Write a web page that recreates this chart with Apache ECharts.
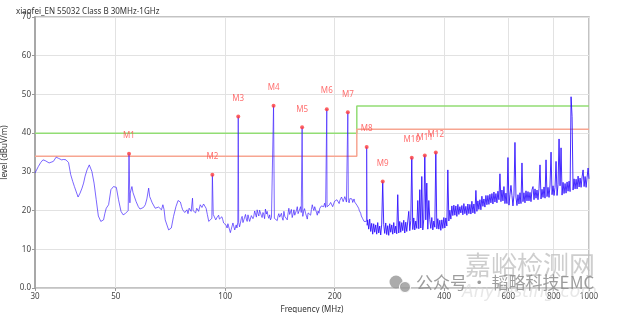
<!DOCTYPE html>
<html><head><meta charset="utf-8">
<script src="https://cdn.jsdelivr.net/npm/echarts@6/dist/echarts.min.js"></script>
<style>html,body{margin:0;padding:0;background:#fff}#c{width:618px;height:313px}</style>
</head><body><div id="c"></div>
<script>
// ---- data ----
const chartTitle = 'xiaofei_EN 55032 Class B 30MHz-1GHz';
const xTickValues = [30, 50, 100, 200, 400, 600, 800, 1000];
const yTickMin = 0, yTickMax = 70, yTickStep = 10;

// limit lines (MHz, dBuV/m)
const limitFreq = [30, 230, 230, 1000];
const qpLimit = [40, 40, 47, 47];
const marginLimit = [34, 34, 41, 41];

// markers
const markerNames = ['M1','M2','M3','M4','M5','M6','M7','M8','M9','M10','M11','M12'];
const markerFreq = [54.4, 92.2, 108.6, 135.8, 162.7, 190.2, 217.3, 244.8, 271.0, 325.7, 353.7, 379.25];
const markerLevel = [34.7, 29.25, 44.3, 47.1, 41.5, 46.2, 45.4, 36.4, 27.5, 33.65, 34.25, 35.0];

// measured trace [MHz, dBuV/m]
const traceLow = [[30.0,29.7],[30.65,31.4],[31.1,32.4],[31.55,33.1],[32.0,32.9],[32.4,32.7],[32.8,32.3],[33.15,32.1],[33.7,32.7],[34.3,33.8],[34.8,33.5],[35.5,33.1],[36.0,33.2],[36.5,33.1],[37.1,32.4],[37.6,29.3],[38.1,27.5],[38.5,26.2],[38.9,26.6],[39.4,23.5],[39.9,24.5],[40.4,25.8],[40.8,27.1],[41.2,28.9],[41.7,30.5],[42.3,31.8],[43.0,30.1],[43.6,27.1],[44.2,22.8],[44.8,18.6],[45.5,17.2],[46.3,17.6],[46.7,19.3],[47.1,20.6],[47.8,21.5],[48.5,25.4],[49.3,26.2],[50.2,26.0],[50.9,22.8],[51.7,19.8],[52.4,18.9],[53.1,19.2],[53.7,18.9],[54.1,20.0],[54.4,34.7],[54.7,22.0],[54.8,24.5],[55.4,26.2],[55.8,24.6],[56.2,25.1],[56.9,22.3],[57.7,21.0],[58.3,20.4],[59.0,20.2],[59.6,20.8],[60.3,21.5],[60.9,23.0],[61.6,25.8],[62.0,23.6],[62.5,22.8],[63.0,22.0],[63.5,21.5],[64.2,20.6],[64.9,20.2],[65.6,20.9],[66.3,21.0],[66.8,20.2],[67.4,21.5],[67.9,20.3]];
const traceMid = [[68.4,17.6],[69.9,15.0],[71.1,15.5],[72.1,18.5],[73.2,21.0],[74.2,22.6],[75.3,22.2],[75.9,21.0],[76.4,20.2],[77.4,19.5],[78.5,20.2],[79.0,19.2],[79.6,20.6],[80.6,19.8],[81.3,23.2],[81.6,20.0],[82.3,20.2],[82.9,19.4],[83.5,20.6],[84.5,19.8],[85.4,21.5],[86.3,20.8],[87.2,21.7],[87.9,21.2],[88.6,20.6],[89.3,19.0],[90.1,17.2],[91.0,16.8],[91.9,18.0],[92.2,29.25],[92.7,19.0],[93.5,18.5],[94.2,17.6],[94.9,18.2],[95.9,18.8],[96.4,17.8],[97.0,17.6],[97.9,18.4],[98.5,17.6],[99.0,16.8],[100.1,17.3],[100.6,16.2],[101.2,15.5],[101.7,16.6],[102.3,16.2],[103.3,14.3],[103.9,15.2],[104.5,15.6],[105.0,16.8],[105.6,16.5],[106.2,15.0],[106.7,15.2],[107.2,16.3],[107.7,15.5],[108.3,17.0],[108.6,44.3],[108.9,17.0],[109.5,15.8],[110.1,16.8],[110.7,17.9],[111.3,18.5],[111.9,16.9],[112.5,17.6],[113.1,18.3],[113.7,19.0],[114.3,17.8],[114.9,17.2],[115.5,18.9],[116.1,18.6],[116.7,17.2],[117.3,17.6],[118.0,18.7],[118.6,19.2],[119.2,17.9],[119.8,18.5],[120.5,19.9],[121.1,19.6],[121.8,18.3],[122.4,20.2],[123.0,19.3],[123.7,18.6],[124.3,20.1],[125.0,19.8],[125.6,18.8],[126.3,18.2],[127.0,19.5],[127.7,18.9],[128.3,17.9],[129.0,20.4],[129.7,19.1],[130.4,19.8],[131.1,18.6],[131.8,18.0],[132.5,18.9],[133.2,17.6],[134.0,18.2],[134.9,18.4],[135.8,47.1],[136.5,18.0],[137.5,18.5],[138.2,17.6],[139.0,17.4],[139.7,18.6],[140.4,19.2],[141.2,18.3],[141.9,18.0],[142.7,19.3],[143.4,18.2],[144.2,17.5],[145.0,19.8],[145.8,18.5],[146.5,18.9],[147.3,18.0],[148.1,17.6],[148.9,19.4],[149.6,20.6],[150.4,19.0],[151.2,19.5],[152.0,20.3],[152.8,18.2],[153.7,19.1],[154.5,20.2],[155.3,18.8],[156.1,19.0],[157.0,20.1],[157.8,21.0],[158.6,19.2],[159.4,19.6],[160.3,20.4],[161.1,21.0],[161.8,19.5],[162.4,19.0],[162.7,41.5],[163.4,18.5],[164.2,19.8],[165.2,20.5],[166.3,19.3],[167.2,18.6],[168.1,17.8],[169.0,19.4],[169.9,19.9],[170.8,19.0],[171.7,18.8],[172.6,20.3],[173.5,21.5],[174.4,20.6],[175.3,20.0],[176.2,21.0],[177.2,20.7],[178.1,19.6],[179.1,18.8],[180.0,19.9],[181.0,19.3],[182.0,20.6],[182.9,20.2],[183.9,21.2],[184.9,20.7],[185.7,21.6],[186.5,21.0],[187.6,21.9],[188.8,20.8],[190.0,21.0],[190.2,46.2],[190.5,21.0],[191.2,21.0],[192.3,20.6],[193.4,21.5],[194.9,22.1],[196.4,21.9],[197.4,21.0],[198.4,21.3],[199.8,22.4],[201.2,22.3],[202.8,22.8],[204.1,23.2],[205.7,21.8],[206.6,22.6],[207.6,22.3],[208.8,23.5],[209.9,23.4],[211.0,22.3],[212.1,22.6],[213.2,23.6],[214.3,23.0],[215.4,22.2],[216.6,22.4],[217.3,45.4],[218.0,22.6],[219.1,22.0],[220.1,23.1],[221.2,22.6],[222.2,22.9],[223.1,23.0],[224.1,22.1],[225.1,22.4],[226.0,23.0],[227.0,22.2],[228.4,21.9],[229.2,22.1],[230.1,21.4],[231.7,21.0],[232.7,20.6],[233.7,20.0],[234.7,19.6],[235.7,19.3],[236.7,18.6],[237.6,18.8],[238.7,17.9],[239.8,18.0],[240.8,17.2],[241.8,17.6],[243.0,16.8],[244.5,17.2],[244.8,36.4],[245.6,16.2]];
const traceHigh = [[245.6,16.2],[246.4,17.6],[247.96,15.2],[249.54,17.8],[251.14,14.6],[252.73,16.7],[254.34,13.9],[255.95,16.6],[257.58,14.4],[259.23,16.3],[260.88,13.9],[262.53,16.9],[264.2,14.2],[265.88,16.0],[267.58,13.7],[269.28,16.5],[270.99,27.5],[272.71,16.4],[274.45,14.1],[276.2,16.8],[277.95,13.8],[279.72,16.1],[281.5,13.6],[283.29,16.6],[285.1,14.4],[286.91,16.3],[288.73,13.9],[290.57,16.9],[292.42,14.2],[294.28,16.0],[296.15,14.0],[298.03,24.1],[299.93,14.2],[301.84,17.2],[303.76,14.4],[305.69,16.9],[307.63,14.8],[309.59,17.5],[311.56,14.2],[313.55,17.0],[315.54,14.6],[317.55,17.3],[319.57,19.8],[321.6,14.8],[323.65,17.4],[325.71,33.65],[327.78,15.1],[329.86,18.1],[331.96,15.0],[334.07,17.3],[336.2,15.4],[338.34,22.6],[340.49,15.3],[342.66,25.4],[344.84,15.5],[347.03,28.8],[349.24,15.0],[351.46,17.8],[353.7,34.25],[355.95,17.6],[358.21,27.1],[360.49,15.2],[362.78,22.6],[365.09,17.7],[367.41,15.4],[369.75,18.2],[372.1,15.0],[374.47,17.3],[376.85,15.7],[379.25,35.0],[381.66,15.3],[384.09,17.9],[386.53,15.2],[388.99,17.5],[391.46,14.9],[393.96,17.6],[396.46,15.4],[398.99,18.2],[401.52,15.5],[404.08,18.1],[406.65,16.0],[409.24,30.5],[411.84,17.3],[414.46,20.1],[417.09,17.8],[419.75,21.2],[422.42,18.7],[425.11,21.4],[427.81,18.8],[430.53,21.2],[433.27,18.5],[436.03,21.6],[438.8,19.0],[441.59,21.0],[444.4,19.4],[447.23,21.3],[450.07,18.9],[452.94,21.8],[455.82,19.2],[458.71,21.1],[461.63,18.8],[464.57,21.7],[467.52,19.2],[470.5,21.6],[473.49,19.1],[476.5,22.4],[479.53,19.4],[482.58,21.7],[485.65,19.2],[488.75,25.2],[491.85,19.8],[494.98,22.5],[498.13,20.3],[501.3,22.8],[504.49,20.2],[507.7,23.7],[510.93,21.1],[514.18,23.0],[517.45,20.9],[520.74,23.9],[524.05,21.5],[527.39,23.9],[530.74,21.6],[534.12,24.2],[537.52,22.0],[540.94,24.4],[544.38,21.7],[547.84,24.8],[551.32,22.2],[554.83,24.4],[558.36,22.0],[561.92,25.0],[565.49,22.8],[569.09,29.5],[572.71,22.3],[576.35,25.3],[580.02,22.5],[583.71,26.2],[587.42,21.8],[591.16,24.5],[594.92,21.8],[598.7,33.7],[602.51,21.4],[606.34,24.1],[610.2,26.5],[614.08,23.9],[617.99,21.2],[621.92,24.0],[625.88,37.6],[629.86,23.5],[633.87,21.3],[637.9,24.1],[641.96,21.7],[646.04,24.6],[650.15,21.8],[654.28,32.3],[658.44,22.3],[662.63,24.6],[666.85,22.0],[671.1,25.1],[675.36,22.5],[679.66,24.9],[683.98,22.5],[688.34,24.7],[692.72,22.3],[697.12,25.4],[701.56,26.2],[706.02,22.8],[710.51,25.6],[715.03,23.2],[719.58,25.3],[724.16,22.8],[728.76,25.7],[733.4,31.8],[738.07,23.0],[742.76,25.5],[747.49,23.4],[752.24,26.1],[757.03,23.2],[761.84,33.1],[766.69,23.6],[771.57,26.0],[776.47,23.4],[781.41,26.6],[786.39,35.1],[791.39,24.1],[796.42,26.4],[801.49,23.9],[806.59,26.0],[811.72,32.7],[816.88,23.9],[822.08,26.8],[827.31,38.5],[832.57,26.4],[837.87,36.2],[843.2,24.0],[848.56,27.3],[853.96,24.4],[859.39,27.0],[864.86,24.5],[870.36,27.4],[875.9,25.0],[881.47,27.6],[887.08,24.9],[892.72,49.4],[898.4,44.3],[904.11,25.3],[909.87,28.2],[915.65,25.6],[921.48,28.1],[927.34,25.6],[933.24,28.9],[939.18,26.1],[945.15,28.4],[951.17,26.0],[957.22,28.7],[963.31,30.5],[969.43,26.2],[975.6,28.8],[981.81,26.0],[988.05,28.6],[994.34,31.0],[1000,28.2]];

// ---- chart ----
const pairs = (xs, ys) => xs.map((x, i) => [x, ys[i]]);
const markers = markerFreq.map((f, i) => ({ name: markerNames[i], value: [f, markerLevel[i]] }));

const chart = echarts.init(document.getElementById('c'), null, { renderer: 'canvas' });
const fontFam = '"Noto Sans", "DejaVu Sans", sans-serif';
chart.setOption({
  animation: false,
  backgroundColor: '#fff',
  title: {
    text: chartTitle, left: 11, top: 3,
    textStyle: { fontSize: 8, fontWeight: 'normal', color: '#333', fontFamily: fontFam }
  },
  grid: { left: 35, right: 29, top: 17, bottom: 25, containLabel: false, outerBoundsMode: 'none',
    show: true, borderColor: '#b0b0b0', borderWidth: 1.5, backgroundColor: 'transparent' },
  xAxis: {
    type: 'log', logBase: 10, min: 30, max: 1000,
    name: 'Frequency (MHz)', nameLocation: 'middle', nameGap: 15,
    nameTextStyle: { fontSize: 8, color: '#333', fontFamily: fontFam },
    axisLine: { show: true, lineStyle: { color: '#d0d0d0', width: 1 } },
    axisTick: { show: true, customValues: xTickValues, length: 3, lineStyle: { color: '#999' } },
    axisLabel: { customValues: xTickValues, fontSize: 8, color: '#444', margin: 5, fontFamily: fontFam,
      formatter: v => String(Math.round(v)) },
    splitLine: { show: true, lineStyle: { color: '#e2e2e2', width: 1 } },
    minorTick: { show: false }, minorSplitLine: { show: false }
  },
  yAxis: {
    type: 'value', min: yTickMin, max: yTickMax, interval: yTickStep,
    name: 'level (dBuV/m)', nameLocation: 'middle', nameGap: 19,
    nameTextStyle: { fontSize: 8, color: '#333', fontFamily: fontFam },
    axisLine: { show: true, lineStyle: { color: '#a8a8a8', width: 2 } },
    axisTick: { show: true, length: 3, lineStyle: { color: '#999' } },
    axisLabel: { fontSize: 8, color: '#444', margin: 4, fontFamily: fontFam,
      formatter: v => (v === 0 ? '0.0' : String(v)) },
    splitLine: { show: true, lineStyle: { color: '#e2e2e2', width: 1 } }
  },
  series: [
    { type: 'line', name: 'QP limit', data: pairs(limitFreq, qpLimit), symbol: 'none',
      lineStyle: { color: '#92dd74', width: 1.5 }, z: 2 },
    { type: 'line', name: 'margin', data: pairs(limitFreq, marginLimit), symbol: 'none',
      lineStyle: { color: '#f7a591', width: 1.5 }, z: 2 },
    { type: 'line', name: 'trace', data: traceLow.concat(traceMid), symbol: 'none', smooth: false,
      lineStyle: { color: 'rgba(60,30,255,0.68)', width: 1 }, z: 3 },
    { type: 'line', name: 'trace-hf', data: traceHigh, symbol: 'none', smooth: false,
      lineStyle: { color: 'rgba(45,15,255,0.88)', width: 1 }, z: 3 },
    { type: 'scatter', name: 'markers', data: markers, symbol: 'circle', symbolSize: 4,
      itemStyle: { color: '#ff3b3b' }, z: 4,
      label: { show: true, position: 'top', distance: 12, formatter: p => p.name,
        fontSize: 8, color: '#ff4a4a', fontFamily: fontFam } }
  ],
  graphic: [
    { type: 'text', left: 465, top: 252, z: 100, silent: true,
      style: { text: '嘉峪检测网', font: '26px "Noto Sans CJK SC"', fill: 'rgba(190,190,190,0.75)' } },
    { type: 'circle', shape: { cx: 396, cy: 282, r: 6.5 }, z: 100, silent: true, style: { fill: 'rgba(150,150,150,0.8)' } },
    { type: 'circle', shape: { cx: 405, cy: 287, r: 5.5 }, z: 100, silent: true, style: { fill: 'rgba(150,150,150,0.8)', stroke: '#fff', lineWidth: 1 } },
    { type: 'text', left: 416, top: 274, z: 100, silent: true,
      style: { text: '公众号 · 韬略科技EMC', font: '17px "Noto Sans CJK SC"', fill: 'rgba(140,140,140,0.85)' } },
    { type: 'text', left: 462, top: 284, z: 99, silent: true,
      style: { text: 'AnyTesting.com', font: 'italic 17px "DejaVu Sans"', fill: 'rgba(215,215,215,0.6)' } }
  ]
});
</script></body></html>
